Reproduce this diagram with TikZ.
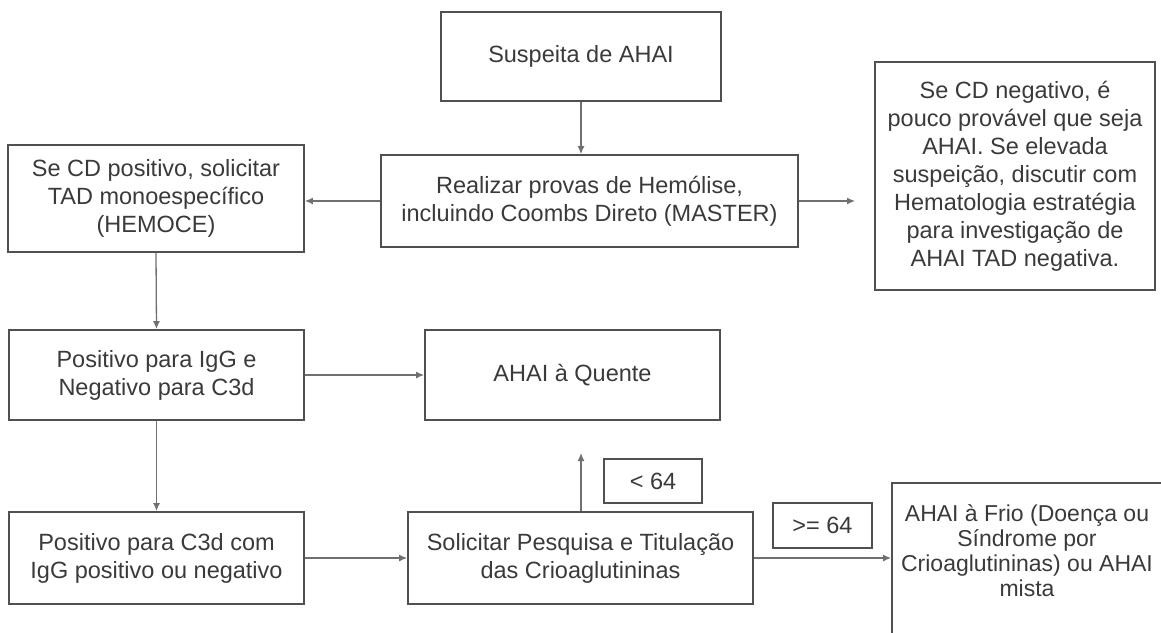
\documentclass[tikz,border=0pt]{standalone}
\usepackage{fontspec}
\setmainfont{Liberation Sans}
\usetikzlibrary{arrows.meta, positioning}
\definecolor{boxgray}{HTML}{505050}
\definecolor{txtgray}{HTML}{3A3A3A}
\definecolor{arrgray}{HTML}{707070}
\tikzset{
  box/.style={draw=boxgray, line width=1.8pt, text=txtgray, align=center, inner sep=0pt,
    font=\fontsize{23.5}{28}\selectfont},
  txt/.style={text=txtgray, align=center, inner sep=0pt, font=\fontsize{23}{25}\selectfont},
  flow/.style={draw=arrgray, line width=1.3pt, -{Latex[length=8pt,width=7pt]}},
}
\begin{document}
\begin{tikzpicture}[x=1pt, y=-1pt]
\clip (0,0) rectangle (1161,632);
% top row
\node[box, minimum width=280, minimum height=89] (suspeita) at (581,56.5) {Suspeita de AHAI};
\node[box, minimum width=417, minimum height=92] (provas) at (589.5,201)
  {Realizar provas de Hemólise,\\incluindo Coombs Direto (MASTER)};
\node[box, minimum width=296, minimum height=107] (cdpos) at (156,198.5)
  {Se CD positivo, solicitar\\TAD monoespecífico\\(HEMOCE)};
\node[box, minimum width=280, minimum height=228] (cdneg) at (1015,176)
  {Se CD negativo, é\\pouco provável que seja\\AHAI. Se elevada\\suspeição, discutir com\\Hematologia estratégia\\para investigação de\\AHAI TAD negativa.};
% middle row
\node[box, minimum width=295, minimum height=90] (igg) at (156.5,375)
  {Positivo para IgG e\\Negativo para C3d};
\node[box, minimum width=295, minimum height=90] (quente) at (572.5,375) {AHAI à Quente};
% bottom row
\node[box, minimum width=295, minimum height=92] (c3d) at (156.5,558)
  {Positivo para C3d com\\IgG positivo ou negativo};
\node[box, minimum width=345, minimum height=92] (crio) at (580.5,558)
  {Solicitar Pesquisa e Titulação\\das Crioaglutininas};
\node[box, minimum width=98, minimum height=44] (menor) at (653,481) {< 64};
\node[box, minimum width=99, minimum height=45] (maior) at (822.5,525.5) {>= 64};
\node[box, minimum width=270, minimum height=200, anchor=north] (frio) at (1027,482) {};
\node[txt, below=22pt of frio.north] (friotxt)
  {AHAI à Frio (Doença ou\\Síndrome por\\Crioaglutininas) ou AHAI\\mista};
% arrows
\coordinate (negin) at (855,201);
\coordinate (quentein) at (581,453);
\draw[flow] (suspeita.south) -- (suspeita.south |- provas.north);
\draw[flow] (provas.west) -- (provas.west -| cdpos.east);
\draw[flow] (provas.east) -- (negin);
\draw[flow] (cdpos.south) -- (igg.north);
\draw[flow] (igg.east) -- (quente.west);
\draw[flow] (igg.south) -- (c3d.north);
\draw[flow] (c3d.east) -- (crio.west);
\draw[flow] (crio.north -| quentein) -- (quentein);
\draw[flow] (crio.east) -- (crio.east -| frio.west);
\end{tikzpicture}
\end{document}
